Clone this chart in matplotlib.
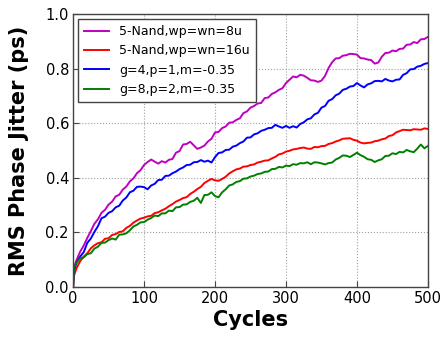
import matplotlib
matplotlib.use("Agg")
import matplotlib.pyplot as plt

cycles = [0, 1] + list(range(5, 501, 5))

nand_8u = [0, 0.07, 0.10, 0.13, 0.152, 0.18, 0.205, 0.232, 0.248, 0.272, 0.283, 0.302,
           0.313, 0.332, 0.338, 0.357, 0.368, 0.387, 0.398, 0.417, 0.428, 0.447, 0.458,
           0.467, 0.459, 0.452, 0.461, 0.456, 0.466, 0.469, 0.492, 0.498, 0.522, 0.524,
           0.532, 0.519, 0.506, 0.511, 0.518, 0.533, 0.543, 0.566, 0.568, 0.582, 0.588,
           0.602, 0.603, 0.612, 0.618, 0.637, 0.643, 0.657, 0.663, 0.672, 0.674, 0.692,
           0.694, 0.707, 0.713, 0.722, 0.728, 0.747, 0.759, 0.771, 0.768, 0.777, 0.774,
           0.766, 0.757, 0.756, 0.751, 0.756, 0.773, 0.802, 0.823, 0.837, 0.838, 0.847,
           0.849, 0.854, 0.853, 0.851, 0.838, 0.837, 0.833, 0.831, 0.818, 0.822, 0.843,
           0.857, 0.858, 0.866, 0.863, 0.872, 0.873, 0.887, 0.888, 0.897, 0.893, 0.907,
           0.908, 0.916]

nand_16u = [0, 0.04, 0.07, 0.095, 0.112, 0.124, 0.142, 0.153, 0.161, 0.164, 0.177, 0.179,
            0.191, 0.194, 0.202, 0.204, 0.217, 0.224, 0.236, 0.244, 0.251, 0.254, 0.259,
            0.261, 0.271, 0.274, 0.281, 0.287, 0.296, 0.304, 0.313, 0.319, 0.326, 0.329,
            0.341, 0.349, 0.359, 0.367, 0.381, 0.389, 0.396, 0.391, 0.389, 0.396, 0.404,
            0.416, 0.424, 0.431, 0.434, 0.441, 0.442, 0.447, 0.449, 0.456, 0.459, 0.463,
            0.464, 0.471, 0.477, 0.486, 0.489, 0.496, 0.499, 0.504, 0.506, 0.509, 0.511,
            0.507, 0.506, 0.513, 0.512, 0.516, 0.517, 0.524, 0.527, 0.533, 0.537, 0.543,
            0.544, 0.545, 0.539, 0.536, 0.529, 0.526, 0.528, 0.529, 0.534, 0.536, 0.541,
            0.544, 0.553, 0.556, 0.566, 0.571, 0.576, 0.575, 0.574, 0.578, 0.577, 0.576,
            0.581, 0.579]

g4_p1 = [0, 0.06, 0.09, 0.112, 0.128, 0.162, 0.178, 0.202, 0.223, 0.252, 0.258, 0.272,
         0.278, 0.292, 0.298, 0.317, 0.328, 0.347, 0.353, 0.367, 0.368, 0.366, 0.358,
         0.372, 0.378, 0.392, 0.393, 0.407, 0.408, 0.417, 0.423, 0.432, 0.438, 0.447,
         0.448, 0.457, 0.458, 0.465, 0.459, 0.463, 0.456, 0.476, 0.491, 0.493, 0.502,
         0.503, 0.514, 0.518, 0.527, 0.533, 0.547, 0.548, 0.559, 0.563, 0.572, 0.576,
         0.582, 0.583, 0.594, 0.588, 0.583, 0.59, 0.583, 0.589, 0.584, 0.597, 0.603,
         0.614, 0.618, 0.632, 0.638, 0.657, 0.663, 0.682, 0.688, 0.702, 0.708, 0.722,
         0.726, 0.734, 0.736, 0.747, 0.738, 0.731, 0.742, 0.746, 0.754, 0.755, 0.753,
         0.762, 0.756, 0.753, 0.759, 0.76, 0.777, 0.783, 0.797, 0.798, 0.807, 0.81,
         0.817, 0.82]

g8_p2 = [0, 0.07, 0.09, 0.106, 0.109, 0.121, 0.124, 0.141, 0.148, 0.162, 0.163, 0.172,
         0.178, 0.174, 0.192, 0.193, 0.197, 0.208, 0.222, 0.228, 0.237, 0.238, 0.247,
         0.253, 0.262, 0.26, 0.27, 0.27, 0.28, 0.278, 0.292, 0.293, 0.302, 0.303, 0.312,
         0.316, 0.327, 0.308, 0.337, 0.338, 0.347, 0.333, 0.329, 0.347, 0.358, 0.372,
         0.376, 0.385, 0.388, 0.397, 0.398, 0.405, 0.408, 0.414, 0.416, 0.422, 0.423,
         0.432, 0.433, 0.44, 0.438, 0.445, 0.443, 0.45, 0.448, 0.454, 0.453, 0.457, 0.45,
         0.457, 0.456, 0.453, 0.449, 0.454, 0.456, 0.467, 0.473, 0.482, 0.481, 0.476,
         0.484, 0.492, 0.483, 0.477, 0.468, 0.466, 0.458, 0.464, 0.468, 0.48, 0.481,
         0.49, 0.487, 0.495, 0.493, 0.502, 0.497, 0.494, 0.507, 0.522, 0.508, 0.517]

series = [
    ("5-Nand,wp=wn=8u", nand_8u, "#bf00bf"),
    ("5-Nand,wp=wn=16u", nand_16u, "#ff0000"),
    ("g=4,p=1,m=-0.35", g4_p1, "#0000ff"),
    ("g=8,p=2,m=-0.35", g8_p2, "#008000"),
]

plt.rcParams['font.family'] = ['DejaVu Sans']
fig = plt.figure(figsize=(4.43, 3.39), dpi=100)
ax = fig.add_axes([0.165, 0.153, 0.801, 0.806])

for label, vals, color in series:
    ax.plot(cycles, vals, color=color, lw=1.4, label=label)

ax.set_xlim(0, 500)
ax.set_ylim(0, 1.0)
ax.set_xticks([0, 100, 200, 300, 400, 500])
ax.set_yticks([0.0, 0.2, 0.4, 0.6, 0.8, 1.0])
ax.set_yticklabels(["0.0", "0.2", "0.4", "0.6", "0.8", "1.0"])
ax.tick_params(direction='in', labelsize=10.5, length=4, color='#444444', pad=3)
ax.grid(True, ls=':', color='#a0a0a0', lw=0.8)
for sp in ax.spines.values():
    sp.set_color('#444444')
    sp.set_linewidth(1.0)

ax.set_xlabel("Cycles", fontsize=15, fontweight='bold', labelpad=3)
ax.set_ylabel("RMS Phase Jitter (ps)", fontsize=15, fontweight='bold', labelpad=12)

leg = ax.legend(loc='upper left', fontsize=9.0, fancybox=False, framealpha=1,
                edgecolor='#444444', handlelength=2.0, borderpad=0.5, labelspacing=0.5,
                borderaxespad=0.4, handletextpad=0.8)
leg.get_frame().set_linewidth(1.0)

fig.savefig("out.png", dpi=100)
